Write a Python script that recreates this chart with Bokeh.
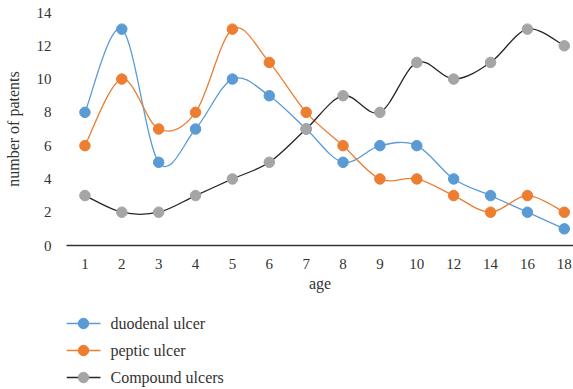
from bokeh.plotting import figure
from bokeh.layouts import column
from bokeh.models import Range1d, FixedTicker
from bokeh.core.properties import value
from bokeh.embed import file_html
from bokeh.resources import INLINE

# Age groups and patient counts per ulcer type
ages = ["1", "2", "3", "4", "5", "6", "7", "8", "9", "10", "12", "14", "16", "18"]
duodenal = [8, 13, 5, 7, 10, 9, 7, 5, 6, 6, 4, 3, 2, 1]
peptic = [6, 10, 7, 8, 13, 11, 8, 6, 4, 4, 3, 2, 3, 2]
compound = [3, 2, 2, 3, 4, 5, 7, 9, 8, 11, 10, 11, 13, 12]
y_ticks = [0, 2, 4, 6, 8, 10, 12, 14]

FONT = "Liberation Serif"
TEXT = "#333333"
xs = list(range(1, len(ages) + 1))

p = figure(width=573, height=300, output_backend="svg", toolbar_location=None,
           x_range=Range1d(0.5, 14.25), y_range=Range1d(0, 14),
           min_border_left=66, min_border_right=0, min_border_top=12,
           min_border_bottom=55)
p.outline_line_color = None
p.grid.grid_line_color = None

p.xaxis.ticker = FixedTicker(ticks=xs)
p.xaxis.major_label_overrides = {x: a for x, a in zip(xs, ages)}
p.yaxis.ticker = FixedTicker(ticks=y_ticks)

for ax in (p.xaxis, p.yaxis):
    ax.major_tick_line_color = None
    ax.minor_tick_line_color = None
    ax.major_label_text_font = FONT
    ax.major_label_text_font_size = "15px"
    ax.major_label_text_color = TEXT
    ax.axis_label_text_font = FONT
    ax.axis_label_text_font_size = "16px"
    ax.axis_label_text_font_style = "normal"
    ax.axis_label_text_color = TEXT

p.xaxis.axis_line_color = TEXT
p.xaxis.axis_line_width = 1.5
p.xaxis.major_label_standoff = 7
p.xaxis.axis_label = "age"
p.xaxis.axis_label_standoff = 3
p.yaxis.axis_line_color = None
p.yaxis.major_label_standoff = 9
p.yaxis.axis_label = "number of patents"
p.yaxis.axis_label_standoff = 12


def smooth_segments(x, y):
    """Cubic Bezier control points for a smoothed line through the points."""
    n = len(x)
    seg = dict(x0=[], y0=[], x1=[], y1=[], cx0=[], cy0=[], cx1=[], cy1=[])
    for i in range(n - 1):
        xm, ym = (x[i - 1], y[i - 1]) if i > 0 else (x[i], y[i])
        xp, yp = (x[i + 2], y[i + 2]) if i + 2 < n else (x[i + 1], y[i + 1])
        seg["x0"].append(x[i]); seg["y0"].append(y[i])
        seg["x1"].append(x[i + 1]); seg["y1"].append(y[i + 1])
        seg["cx0"].append(x[i] + (x[i + 1] - xm) / 6)
        seg["cy0"].append(y[i] + (y[i + 1] - ym) / 6)
        seg["cx1"].append(x[i + 1] - (xp - x[i]) / 6)
        seg["cy1"].append(y[i + 1] - (yp - y[i]) / 6)
    return seg


series = [
    ("duodenal ulcer", duodenal, "#5B9BD5", "#5B9BD5"),
    ("peptic ulcer", peptic, "#ED7D31", "#ED7D31"),
    ("Compound ulcers", compound, "#262626", "#A5A5A5"),
]

for name, vals, line_col, mark_col in series:
    s = smooth_segments(xs, vals)
    p.bezier(source=s, x0="x0", y0="y0", x1="x1", y1="y1",
             cx0="cx0", cy0="cy0", cx1="cx1", cy1="cy1",
             line_color=line_col, line_width=1.3)
    p.scatter(xs, vals, size=10.5, fill_color=mark_col, line_color=mark_col)

# Key strip under the chart, laid out in pixel units (y grows downward)
leg_fig = figure(width=573, height=89, output_backend="svg", toolbar_location=None,
                 x_range=Range1d(0, 507), y_range=Range1d(89, 0),
                 min_border_left=66, min_border_right=0,
                 min_border_top=0, min_border_bottom=0)
leg_fig.xaxis.visible = False
leg_fig.yaxis.visible = False
leg_fig.grid.grid_line_color = None
leg_fig.outline_line_color = None

row_y = [23, 50, 77]
for (name, _, line_col, mark_col), yk in zip(series, row_y):
    leg_fig.segment(x0=0, y0=yk, x1=34, y1=yk, line_color=line_col, line_width=1.3)
    leg_fig.scatter(x=[17], y=[yk], size=10.5, fill_color=mark_col, line_color=mark_col)
    leg_fig.text(x=[44], y=[yk], text=[name], text_font=value(FONT),
                 text_font_size="16px", text_color=TEXT, text_baseline="middle")

layout = column(p, leg_fig, spacing=0)
open("out.html", "w").write(file_html(layout, INLINE))
